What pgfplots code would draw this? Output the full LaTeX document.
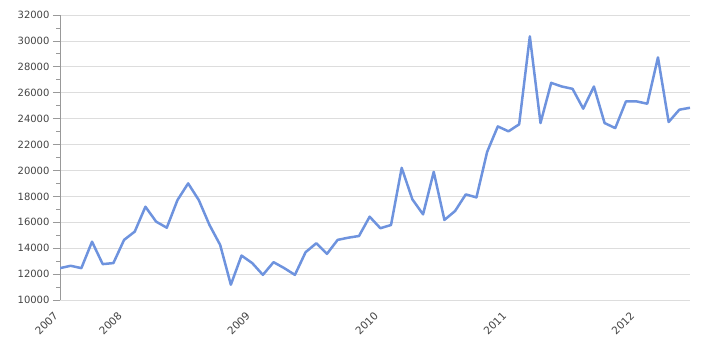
\documentclass[border=0pt]{standalone}
\usepackage{pgfplots}
\pgfplotsset{compat=1.18}
\usepackage{fontspec}
\setmainfont{DejaVu Sans}
\definecolor{linec}{HTML}{6E93DE}
\definecolor{gridc}{HTML}{DDDDDD}
\definecolor{axc}{HTML}{999999}
\definecolor{txt}{HTML}{444444}
\begin{document}
\begin{tikzpicture}[x=1pt,y=1pt]
\path[use as bounding box] (0,0) rectangle (720,350);
\begin{axis}[
  at={(60pt,50pt)}, anchor=south west,
  scale only axis, width=630pt, height=285pt,
  xmin=0, xmax=59, ymin=10000, ymax=32000,
  axis y line*=left, axis x line*=bottom,
  y axis line style={axc, line width=0.8pt},
  x axis line style={gridc, line width=0.8pt},
  ytick={10000,12000,...,32000},
  minor ytick={11000,13000,...,31000},
  ymajorgrids, major grid style={gridc, line width=0.8pt},
  y tick style={axc, line width=0.8pt},
  major tick length=7pt, minor tick length=3.5pt,
  ytick align=outside,
  xtick={0,6,18,30,42,54},
  xticklabels={2007,2008,2009,2010,2011,2012},
  x tick style={draw=none},
  tick label style={font=\fontsize{10}{12}\selectfont, text=txt},
  xticklabel style={font=\fontsize{10.5}{12}\selectfont, rotate=45, anchor=north east, inner sep=0pt, xshift=-12.7pt, yshift=-2.8pt},
  scaled y ticks=false,
  /pgf/number format/.cd, set thousands separator={}, assume math mode=true,
]
\addplot[linec, line width=2.5pt, line join=round] table[x=i, y=v] {
i v
0 12460
1 12640
2 12460
3 14500
4 12770
5 12850
6 14640
7 15280
8 17200
9 16050
10 15580
11 17710
12 19000
13 17710
14 15790
15 14250
16 11180
17 13430
18 12850
19 11940
20 12920
21 12460
22 11940
23 13690
24 14380
25 13560
26 14640
27 14810
28 14940
29 16430
30 15540
31 15790
32 20200
33 17770
34 16610
35 19890
36 16180
37 16870
38 18150
39 17920
40 21430
41 23400
42 23020
43 23560
44 30350
45 23660
46 26760
47 26480
48 26300
49 24770
50 26480
51 23660
52 23270
53 25330
54 25330
55 25150
56 28730
57 23740
58 24690
59 24840
};
\end{axis}
\end{tikzpicture}
\end{document}
